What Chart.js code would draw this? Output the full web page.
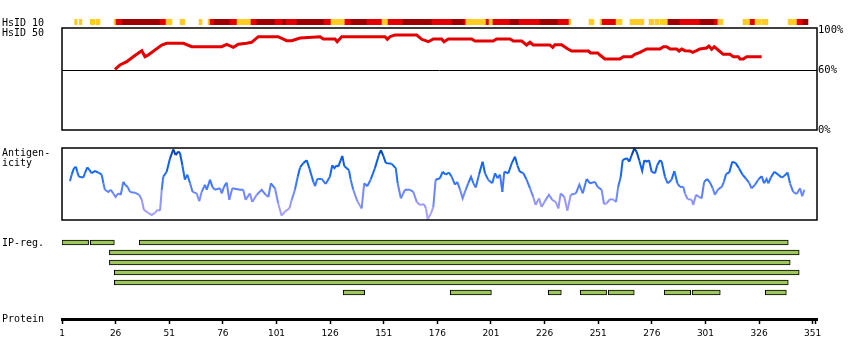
<!DOCTYPE html>
<html><head><meta charset="utf-8">
<script src="https://cdn.jsdelivr.net/npm/chart.js@4.4.1/dist/chart.umd.min.js"></script>
<style>
html,body{margin:0;padding:0;background:#fff;}
#wrap{position:relative;width:850px;height:360px;overflow:hidden;background:#fff;}
#wrap canvas{position:absolute;left:0;top:0;}
.lbl{position:absolute;left:2px;font-family:"DejaVu Sans Mono",monospace;font-size:10px;line-height:10px;color:#000;white-space:pre;}
</style></head><body>
<div id="wrap">
<canvas id="cHs10" width="850" height="360"></canvas>
<canvas id="cHs50" width="850" height="360"></canvas>
<canvas id="cAnt" width="850" height="360"></canvas>
<canvas id="cIp" width="850" height="360"></canvas>
<canvas id="cProt" width="850" height="360"></canvas>
<div class="lbl" style="top:17.5px">HsID 10</div>
<div class="lbl" style="top:27.5px">HsID 50</div>
<div class="lbl" style="top:147.5px">Antigen-</div>
<div class="lbl" style="top:157.5px">icity</div>
<div class="lbl" style="top:238px">IP-reg.</div>
<div class="lbl" style="top:313.5px">Protein</div>
</div>
<script>
// ---------- DATA ----------
const proteinMin = 1;
const proteinMax = 353;
const proteinTicks = [1, 26, 51, 76, 101, 126, 151, 176, 201, 226, 251, 276, 301, 326, 351];
const proteinEnd = 352.5;

// HsID 10 identity strip (residue ranges and class: y = yellow, r = red, d = dark red)
const hs10Start = [6.9, 9.1, 14.2, 16.9, 25.2, 26.2, 29.0, 46.7, 49.5, 56.0, 64.9, 69.1, 70.0, 71.9, 79.3, 82.6, 89.1, 91.9, 100.3, 104.0, 105.4, 110.6, 123.1, 126.4, 132.9, 135.7, 143.2, 150.2, 153.0, 160.0, 173.5, 182.8, 188.4, 189.3, 198.7, 200.1, 201.9, 209.9, 214.1, 223.8, 232.2, 237.4, 246.7, 251.8, 252.8, 259.3, 265.8, 274.7, 277.5, 279.8, 283.5, 289.1, 298.4, 305.0, 306.8, 318.5, 321.8, 324.1, 327.3, 339.5, 343.7, 346.5];
const hs10End   = [8.1, 10.3, 16.4, 18.7, 26.2, 29.0, 46.7, 49.5, 52.3, 58.3, 66.3, 70.0, 71.9, 79.3, 82.6, 89.1, 91.9, 100.3, 104.0, 105.4, 110.6, 123.1, 126.4, 132.9, 135.7, 143.2, 150.2, 153.0, 160.0, 173.5, 182.8, 188.4, 189.3, 198.7, 200.1, 201.9, 209.9, 214.1, 223.8, 232.2, 237.4, 238.3, 249.0, 252.8, 259.3, 262.1, 272.3, 277.0, 279.3, 283.5, 289.1, 298.4, 305.0, 306.8, 309.2, 321.8, 324.1, 326.9, 330.1, 343.7, 346.5, 348.8];
const hs10Class = ['y','y','y','y','y','r','d','r','y','y','y','y','r','d','r','y','r','d','r','d','r','d','r','y','r','d','r','y','r','d','r','d','r','y','r','y','r','d','r','d','r','y','y','y','r','y','y','y','y','y','d','r','d','r','y','y','r','y','y','y','r','d'];

// HsID 50 (%)
const hs50Res = [25.7, 28, 31.2, 34.2, 38.2, 39.7, 41.2, 47.5, 49.8, 57.6, 61.5, 75.5, 77.8, 80.9, 83.2, 87.1, 89.4, 92.5, 101.8, 105.7, 108.1, 112, 121.3, 122.8, 128.3, 129.3, 131.4, 151.6, 152.7, 153.9, 156.2, 166.4, 168.7, 171.8, 174.1, 178, 179.1, 181.1, 192, 193.5, 202.1, 203.6, 209.9, 211.4, 215.3, 217.6, 219.2, 220.7, 228.5, 229.8, 230.8, 233.9, 236.3, 238.6, 246.4, 247.5, 250.8, 251.8, 254.1, 261.1, 262.7, 266.6, 268.1, 270.5, 273.6, 279.8, 281.4, 282.9, 284.5, 287.6, 288.7, 289.9, 291.4, 293.8, 295, 296.9, 298.4, 301.5, 302.6, 303.9, 305.1, 306.9, 309.3, 312.4, 314, 316.3, 317.1, 318.6, 320.2, 327.2];
const hs50Val = [60.7, 65, 68.3, 73.3, 79.3, 73.3, 75, 85, 86.7, 86.7, 83.3, 83.3, 85.7, 82.7, 85.7, 86.7, 87.7, 93.3, 93.3, 89.3, 89.3, 92, 93.3, 91, 91, 88.3, 93.3, 93.3, 90.7, 93.3, 95, 95, 90.7, 88.3, 91, 91, 88.3, 91, 91, 89, 89, 91, 91, 89, 89, 85, 87.7, 85, 85, 82.7, 85.3, 85.3, 81.7, 79, 79, 77, 77, 75, 71, 71, 73.3, 73.3, 75.7, 77.7, 81, 81, 83.3, 83.3, 81, 81, 79, 81, 79.3, 79, 77.7, 79.3, 81, 82, 84, 80.7, 83.3, 80, 75.7, 75.7, 73.3, 73.3, 71, 71, 73.3, 73.3];
const hs50Ticks = [0, 60, 100];

// Antigenicity (relative score 0-100)
const antRes = [4.7, 5.5, 6.6, 7.5, 8.1, 8.9, 10.9, 11.7, 12.8, 13.7, 14.8, 16.4, 17.9, 19.5, 20.3, 21.0, 22.6, 23.7, 24.9, 26.0, 27.2, 28.4, 29.6, 30.4, 31.6, 32.7, 35.0, 37.0, 38.2, 39.2, 41.2, 42.8, 44.4, 45.4, 46.7, 47.5, 48.2, 49.8, 51.4, 52.9, 54.0, 55.2, 56.0, 57.1, 58.3, 59.4, 60.7, 61.9, 63.8, 65.0, 66.1, 67.7, 68.5, 70.0, 71.1, 72.3, 74.7, 75.5, 76.5, 77.8, 79.0, 80.4, 84.0, 85.5, 86.6, 88.6, 89.7, 91.8, 94.1, 96.0, 97.2, 98.4, 100.3, 101.8, 103.4, 105.0, 107.0, 108.1, 109.6, 110.9, 112.0,
  113.5, 115.1, 116.3, 118.2, 119.0, 120.0, 122.1, 123.9, 125.9, 127.0, 128.0, 129.1, 129.8, 131.7, 132.6, 134.8, 135.6, 136.8, 138.7, 140.7, 141.9, 143.3, 144.9, 146.9, 148.8, 149.7, 150.8, 152.0, 154.7, 156.6, 157.5, 159.0, 160.9, 163.2, 164.8, 166.4, 167.9, 169.8, 170.7, 171.5, 173.0, 174.1, 175.2, 177.2, 178.5, 179.9, 181.4, 182.7, 184.2, 185.3, 186.6, 187.8, 189.2, 190.4, 191.7, 192.8, 193.9, 195.4, 197.1, 198.2, 199.7, 201.6, 202.9, 204.1, 205.2, 206.3, 207.2, 209.1, 210.7, 212.2, 213.3, 214.5, 216.1, 217.6, 219.2, 220.7, 221.8, 223.4, 224.6, 226.5, 228.0, 229.6, 231.2, 232.4, 233.5, 235.2, 236.6, 238.2, 240.6, 242.2, 243.8, 245.6, 247.2, 249.5, 250.7,
  252.6, 253.7, 254.9, 256.5, 258.3, 259.3, 260.3, 261.5, 262.4, 264.3, 265.5, 266.6, 267.8, 268.9, 270.1, 271.5, 272.5, 273.6, 274.7, 275.9, 277.5, 278.5, 279.8, 280.6, 282.1, 283.4, 285.2, 286.5, 287.9, 289.1, 290.7, 291.4, 292.7, 294.6, 295.3, 296.6, 298.1, 299.2, 300.4, 301.8, 303.1, 304.4, 305.4, 307.0, 308.6, 309.6, 310.6, 312.1, 313.5, 315.1, 316.6, 318.3, 319.7, 321.3, 322.5, 324.1, 325.6, 327.2, 328.3, 329.5, 330.3, 331.5, 333.1, 334.9, 336.5, 337.7, 339.3, 340.4, 341.9, 343.5, 345.1, 346.1, 347.1];
const antVal = [54, 63, 72, 74, 67, 60, 59, 65, 73, 70, 65, 68, 66, 63, 51, 42, 39, 42, 37, 32, 37, 35, 53, 49, 46, 39, 38, 35, 28, 14, 10, 7, 10, 14, 13, 42, 60, 67, 86, 98, 90, 95, 93, 76, 56, 63, 51, 39, 37, 26, 39, 49, 42, 56, 46, 42, 44, 37, 46, 52, 28, 44, 42, 42, 28, 37, 25, 35, 42, 35, 32, 51, 44, 23, 6, 12, 16, 28, 42, 60, 73,
  79, 83, 72, 53, 47, 57, 57, 50, 60, 76, 72, 76, 74, 89, 75, 69, 56, 42, 26, 16, 51, 47, 56, 72, 91, 97, 89, 79, 78, 72, 51, 30, 42, 42, 39, 25, 21, 22, 16, 1, 9, 18, 56, 58, 67, 63, 66, 60, 49, 53, 42, 30, 42, 51, 60, 51, 45, 63, 81, 65, 56, 51, 65, 58, 63, 39, 67, 65, 79, 88, 76, 67, 65, 56, 44, 32, 21, 30, 18, 28, 35, 28, 25, 16, 37, 32, 13, 35, 37, 49, 37, 57, 51, 53, 46,
  42, 22, 23, 29, 28, 25, 46, 60, 83, 86, 81, 90, 99, 95, 83, 68, 83, 81, 83, 67, 65, 76, 83, 81, 60, 51, 56, 68, 51, 46, 46, 37, 29, 28, 21, 35, 32, 30, 53, 57, 52, 44, 35, 43, 46, 53, 64, 66, 81, 79, 72, 63, 58, 52, 44, 49, 56, 61, 51, 57, 51, 59, 67, 63, 59, 61, 66, 51, 39, 36, 44, 33, 42];

// IP-reg regions
const ipRows  = ['1', '2', '3', '4', '5', '6'];
const ipStart = [1, 14.2, 37.0, 23.1, 23.1, 25.4, 25.4, 132.1, 182.0, 227.7, 242.6, 255.7, 281.8, 294.8, 328.9];
const ipEnd   = [13.4, 25.4, 339.6, 344.7, 340.5, 344.7, 339.6, 142.1, 201.2, 233.8, 254.9, 267.8, 294.1, 307.9, 338.7];
const ipRow   = ['1', '1', '1', '2', '3', '4', '5', '6', '6', '6', '6', '6', '6', '6', '6'];

// ---------- STYLE ----------
const hs10Colors = { y: '#ffcc22', r: '#e30000', d: '#9c0000' };
const MONO = '"DejaVu Sans Mono", monospace';
const PAD = (top, bottom, right) => ({ left: 62, right: (right === undefined ? 33 : right), top: top, bottom: bottom });
const baseOpts = { responsive: false, animation: false, events: [], plugins: { legend: { display: false }, tooltip: { enabled: false } } };
const hiddenX = { type: 'linear', min: proteinMin, max: proteinMax, display: false };

const framePlugin = {
  id: 'frameBox',
  afterDraw(chart) {
    const { ctx, chartArea: a } = chart;
    ctx.save();
    ctx.strokeStyle = '#000';
    ctx.lineWidth = 1.5;
    ctx.strokeRect(a.left, a.top, a.right - a.left, a.bottom - a.top);
    ctx.restore();
  }
};

// HsID 10 strip
new Chart(document.getElementById('cHs10'), {
  type: 'bar',
  data: {
    labels: ['HsID 10'],
    datasets: [{
      data: hs10Start.map((s, i) => ({ x: [s, hs10End[i]], y: 'HsID 10' })),
      backgroundColor: hs10Class.map(c => hs10Colors[c]),
      borderWidth: 0,
      barThickness: 6,
      inflateAmount: 0.3
    }]
  },
  options: Object.assign({}, baseOpts, {
    indexAxis: 'y',
    layout: { padding: PAD(19, 335) },
    scales: { x: hiddenX, y: { type: 'category', display: false } }
  })
});

// HsID 50
new Chart(document.getElementById('cHs50'), {
  type: 'line',
  data: {
    datasets: [{
      data: hs50Res.map((r, i) => ({ x: r, y: hs50Val[i] })),
      borderColor: '#e30000',
      borderWidth: 3,
      pointRadius: 0,
      tension: 0,
      fill: false
    }]
  },
  options: Object.assign({}, baseOpts, {
    layout: { padding: PAD(28, 230, 0) },
    scales: {
      x: hiddenX,
      y: {
        type: 'linear', position: 'right', min: 0, max: 102,
        afterFit: s => { s.width = 33; },
        afterBuildTicks: s => { s.ticks = hs50Ticks.map(v => ({ value: v })); },
        border: { display: false },
        grid: { drawTicks: false, lineWidth: 1, color: c => (c.tick && c.tick.value === 60) ? '#000' : 'rgba(0,0,0,0)' },
        ticks: { padding: 1, color: '#000', autoSkip: false, font: { family: MONO, size: 10.5 }, callback: v => v + '%' }
      }
    }
  }),
  plugins: [framePlugin]
});

// Antigenicity
const antStops = [[0, [175, 165, 255]], [25, [150, 150, 255]], [45, [80, 125, 255]], [65, [25, 105, 250]], [85, [10, 90, 225]], [100, [0, 55, 150]]];
function antColor(v) {
  for (let i = 1; i < antStops.length; i++) {
    if (v <= antStops[i][0]) {
      const [v0, c0] = antStops[i - 1], [v1, c1] = antStops[i];
      const t = (v - v0) / (v1 - v0);
      return 'rgb(' + c0.map((c, k) => Math.round(c + (c1[k] - c) * t)).join(',') + ')';
    }
  }
  return 'rgb(0,55,150)';
}
new Chart(document.getElementById('cAnt'), {
  type: 'line',
  data: {
    datasets: [{
      data: antRes.map((r, i) => ({ x: r, y: antVal[i] })),
      borderWidth: 2,
      borderColor: '#1a6cff',
      pointRadius: 0,
      tension: 0,
      fill: false,
      segment: { borderColor: c => antColor((c.p0.parsed.y + c.p1.parsed.y) / 2) }
    }]
  },
  options: Object.assign({}, baseOpts, {
    layout: { padding: PAD(148, 140) },
    scales: { x: hiddenX, y: { type: 'linear', min: 0, max: 100, display: false } }
  }),
  plugins: [framePlugin]
});

// IP-reg
new Chart(document.getElementById('cIp'), {
  type: 'bar',
  data: {
    labels: ipRows,
    datasets: [{
      data: ipStart.map((s, i) => ({ x: [s, ipEnd[i]], y: ipRow[i] })),
      backgroundColor: '#9dc65b',
      borderColor: '#000',
      borderWidth: 1,
      borderSkipped: false,
      barThickness: 5
    }]
  },
  options: Object.assign({}, baseOpts, {
    indexAxis: 'y',
    layout: { padding: PAD(237.5, 62.5) },
    scales: { x: hiddenX, y: { type: 'category', display: false } }
  })
});

// Protein axis
new Chart(document.getElementById('cProt'), {
  type: 'scatter',
  data: { datasets: [{ data: [] }] },
  options: Object.assign({}, baseOpts, {
    layout: { padding: PAD(300, 21) },
    scales: {
      x: {
        type: 'linear', position: 'bottom', min: proteinMin, max: proteinMax,
        afterFit: s => { s.height = 20; },
        afterBuildTicks: s => { s.ticks = proteinTicks.map(v => ({ value: v })).concat([{ value: proteinEnd }]); },
        border: { display: true, width: 3, color: '#000' },
        grid: { drawOnChartArea: false, drawTicks: true, tickLength: 5, tickWidth: 1.5, tickColor: '#000', color: '#000' },
        ticks: {
          autoSkip: false, maxRotation: 0, padding: 4, color: '#000',
          font: { family: '"DejaVu Sans", sans-serif', size: 9 },
          callback: v => proteinTicks.includes(v) ? String(v) : ''
        }
      },
      y: { display: false, min: 0, max: 1 }
    }
  })
});
</script>
</body></html>
